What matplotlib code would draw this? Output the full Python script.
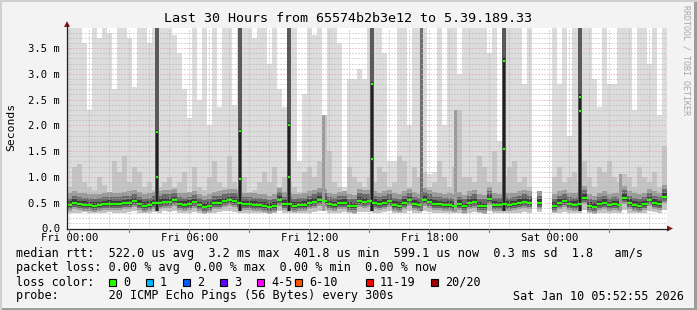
#!/usr/bin/env python3
# Smokeping style latency graph (last 30 hours)

import numpy as np
import matplotlib
matplotlib.use('Agg')
import matplotlib.pyplot as plt
from matplotlib.patches import Rectangle, Polygon
from matplotlib.lines import Line2D

W, H = 697, 310
FONT = 'DejaVu Sans Mono'

# one value per 15 minute bin, in milliseconds (nan = no data)
nan = float('nan')
median_ms = [
    0.46, 0.50, 0.47, 0.46, 0.45, 0.44, 0.45, 0.47, 0.48, 0.47, 0.47, 0.49, 0.50, 0.53, 0.48, 0.44, 0.46, 0.49, 0.50, 0.52,
    0.52, 0.55, 0.47, 0.46, 0.48, 0.51, 0.45, 0.42, 0.44, 0.49, 0.50, 0.53, 0.55, 0.54, 0.50, 0.47, 0.47, 0.46, 0.45, 0.44,
    0.42, 0.44, 0.56, 0.48, 0.47, 0.44, 0.45, 0.46, 0.50, 0.52, 0.56, 0.54, 0.47, 0.45, 0.49, 0.50, 0.44, 0.43, 0.54, 0.52,
    0.53, 0.50, 0.47, 0.50, 0.53, 0.46, 0.44, 0.50, 0.55, 0.48, 0.45, 0.56, 0.52, 0.48, 0.47, 0.45, 0.46, 0.44, 0.48, 0.43,
    0.50, 0.52, 0.44, 0.43, 0.58, 0.46, 0.45, 0.47, 0.46, 0.47, 0.50, 0.52, 0.50, nan, 0.50, nan, nan, 0.44, 0.50, 0.53,
    0.47, 0.46, 0.48, 0.60, 0.44, 0.42, 0.47, 0.50, 0.45, 0.47, 0.46, 0.60, 0.50, 0.46, 0.44, 0.47, 0.55, 0.50, 0.47, 0.62,
]
smoke_max = [
    3.9, 3.9, 3.9, 3.6, 2.3, 3.9, 3.7, 3.9, 3.8, 2.7, 3.9, 3.9, 3.7, 2.75, 3.9, 3.9, 3.6, 3.9, 3.9, 3.9,
    3.9, 3.75, 3.4, 2.7, 2.15, 3.9, 2.5, 3.9, 2.0, 3.9, 2.35, 3.9, 3.9, 2.4, 3.9, 3.9, 3.9, 3.7, 3.9, 3.9,
    3.2, 3.9, 2.7, 2.35, 3.9, 3.9, 1.3, 2.6, 3.9, 3.75, 3.9, 2.2, 3.9, 3.9, 3.6, 0.8, 2.9, 2.9, 3.1, 2.9,
    3.9, 3.9, 3.9, 3.4, 1.3, 1.3, 3.9, 3.9, 2.0, 3.9, 3.9, 3.9, 1.05, 1.1, 3.9, 2.0, 3.9, 3.9, 3.0, 3.9,
    3.9, 3.9, 3.9, 3.9, 3.4, 3.9, 1.7, 3.9, 3.9, 3.9, 3.9, 2.8, 3.9, nan, 0.7, nan, nan, 3.9, 2.8, 3.9,
    1.8, 3.9, 3.9, 3.9, 3.9, 2.9, 2.35, 3.9, 2.8, 2.8, 3.9, 3.9, 3.9, 2.3, 3.9, 3.9, 3.2, 3.9, 2.2, 3.9,
]
smoke_mid = [
    0.8, 1.2, 1.25, 0.9, 0.8, 0.75, 1.0, 0.85, 0.7, 1.3, 1.1, 1.4, 0.9, 1.2, 1.1, 0.8, 0.9, 0.75, 0.8, 0.9,
    1.0, 0.8, 0.9, 1.1, 0.7, 1.2, 0.8, 0.75, 1.0, 1.3, 0.9, 0.8, 1.4, 0.9, 0.8, 1.0, 0.7, 0.75, 0.9, 1.1,
    0.9, 1.2, 0.8, 1.0, 0.9, 0.8, 0.7, 1.1, 1.2, 1.0, 1.3, 2.2, 1.5, 0.9, 0.8, 0.7, 1.2, 1.0, 0.9, 0.8,
    1.0, 0.9, 1.2, 1.1, 0.8, 0.9, 1.4, 1.3, 0.8, 1.2, 1.0, 1.1, 0.8, 0.9, 1.3, 1.0, 0.8, 1.2, 2.3, 1.0,
    1.0, 0.9, 1.4, 1.2, 0.9, 1.5, 0.9, 1.0, 1.2, 1.3, 0.9, 1.0, 0.8, nan, 0.6, nan, nan, 1.0, 1.2, 0.9,
    1.0, 1.1, 0.9, 1.3, 1.0, 0.8, 1.2, 1.1, 1.3, 1.0, 0.9, 1.05, 1.0, 0.8, 1.2, 1.0, 0.9, 1.1, 0.8, 1.6,
]
smoke_min = [
    0.31, 0.30, 0.31, 0.32, 0.31, 0.30, 0.31, 0.31, 0.32, 0.31, 0.30, 0.31, 0.32, 0.33, 0.31, 0.30, 0.31, 0.32, 0.31, 0.33,
    0.32, 0.33, 0.31, 0.30, 0.31, 0.32, 0.30, 0.29, 0.30, 0.31, 0.32, 0.33, 0.33, 0.32, 0.31, 0.31, 0.30, 0.30, 0.31, 0.30,
    0.29, 0.30, 0.33, 0.31, 0.31, 0.30, 0.30, 0.31, 0.31, 0.32, 0.33, 0.33, 0.31, 0.30, 0.31, 0.32, 0.30, 0.29, 0.32, 0.32,
    0.32, 0.31, 0.31, 0.32, 0.33, 0.30, 0.30, 0.31, 0.33, 0.31, 0.30, 0.33, 0.32, 0.31, 0.31, 0.30, 0.30, 0.30, 0.31, 0.29,
    0.31, 0.32, 0.30, 0.29, 0.34, 0.31, 0.30, 0.31, 0.30, 0.31, 0.31, 0.32, 0.31, nan, 0.32, nan, nan, 0.30, 0.31, 0.32,
    0.31, 0.30, 0.31, 0.35, 0.30, 0.29, 0.31, 0.31, 0.30, 0.31, 0.30, 0.35, 0.31, 0.30, 0.30, 0.31, 0.33, 0.32, 0.31, 0.36,
]

# short bursts where the median itself went up (hours since graph start)
spike_hours = [4.5, 8.65, 11.1, 15.25, 21.85, 25.65]
spike_med_hi = [1.87, 1.89, 2.00, 2.80, 3.25, 2.55]
spike_med_lo = [0.99, 0.97, 1.00, 1.35, 1.55, 2.27]

# darker smoke columns without a median jump
gray_col_hours = [12.8, 17.7, 19.4, 27.65]
gray_col_top = [2.2, 3.9, 2.3, 1.05]

x_tick_hours = [0.118, 6.118, 12.118, 18.118, 24.118]
x_tick_labels = ['Fri 00:00', 'Fri 06:00', 'Fri 12:00', 'Fri 18:00', 'Sat 00:00']
y_ticks = [0.0, 0.5, 1.0, 1.5, 2.0, 2.5, 3.0, 3.5]
y_tick_labels = ['0.0', '0.5 m', '1.0 m', '1.5 m', '2.0 m', '2.5 m', '3.0 m', '3.5 m']

loss_labels = ['0', '1', '2', '3', '4-5', '6-10', '11-19', '20/20']
loss_colors = ['#26ff00', '#00b8ff', '#0059ff', '#5e00ff', '#ff00ff', '#ff5500', '#ff0000', '#a10000']

legend_lines = [
    'median rtt:  522.0 us avg  3.2 ms max  401.8 us min  599.1 us now  0.3 ms sd  1.8   am/s',
    'packet loss: 0.00 % avg  0.00 % max  0.00 % min  0.00 % now',
    'loss color:',
    'probe:       20 ICMP Echo Pings (56 Bytes) every 300s',
]
stamp = 'Sat Jan 10 05:52:55 2026'

BIN_H = 0.25
YMAX = 3.89
GREEN = '#26ff00'


def fx(x):
    return x / W


def fy(y):
    return 1 - y / H


fig = plt.figure(figsize=(W / 100, H / 100), dpi=100, facecolor='#f3f3f3')
ax = fig.add_axes([fx(67), fy(228.5), 600 / W, 200.5 / H])
ax.set_facecolor('white')
ax.set_xlim(0, 30)
ax.set_ylim(0, YMAX)
for s in ax.spines.values():
    s.set_visible(False)

med = np.array(median_ms, float)
hi = np.minimum(np.array(smoke_max, float), YMAX)
mid = np.array(smoke_mid, float)
lo = np.array(smoke_min, float)
t = np.arange(len(med)) * BIN_H
ok = ~np.isnan(med)

# smoke, lightest outside, darkest around the median
ax.bar(t[ok], (hi - lo)[ok], bottom=lo[ok], width=BIN_H, align='edge',
       color='#dcdcdc', lw=0, antialiased=False, zorder=1)
ax.bar(t[ok], (mid - lo)[ok], bottom=lo[ok], width=BIN_H, align='edge',
       color='#c4c4c4', lw=0, antialiased=False, zorder=2)
for below, above, col in [(0.12, 0.22, '#9a9a9a'), (0.08, 0.14, '#6a6a6a'), (0.04, 0.07, '#3c3c3c')]:
    ax.bar(t[ok], below + above, bottom=med[ok] - below, width=BIN_H, align='edge',
           color=col, lw=0, antialiased=False, zorder=3)

for h, top in zip(gray_col_hours, gray_col_top):
    c = '#6e6e6e' if top >= YMAX else '#9a9a9a'
    ax.bar(h, min(top, YMAX) - 0.33, bottom=0.33, width=0.15, color=c, lw=0, zorder=4)

# grid, drawn over the smoke
dots = (0, (1, 2))
for k in range(30):
    hh = x_tick_hours[0] + k
    col = '#e89a9a' if k % 3 == 0 else '#b4b4b4'
    ax.axvline(hh, color=col, lw=0.72, ls=dots, zorder=4.5)
for k in range(1, 39):
    col = '#e89a9a' if k % 5 == 0 else '#b4b4b4'
    ax.axhline(k * 0.1, color=col, lw=0.72, ls=dots, zorder=4.5)

for h, a, b in zip(spike_hours, spike_med_hi, spike_med_lo):
    ax.bar(h, YMAX - 0.33, bottom=0.33, width=0.2, color='#5a5a5a', lw=0, zorder=5)
    ax.bar(h, max(a, b) + 0.05 - 0.33, bottom=0.33, width=0.14, color='#202020', lw=0, zorder=5)
    ax.hlines([a, b], h - 0.06, h + 0.06, colors=GREEN, lw=1.6, zorder=8)

# median
ax.hlines(med[ok], t[ok], t[ok] + BIN_H, colors=GREEN, lw=1.6, zorder=8)

ax.set_xticks(x_tick_hours)
ax.set_xticklabels(x_tick_labels, fontfamily=FONT, fontsize=7.6)
ax.set_yticks(y_ticks)
ax.set_yticklabels(y_tick_labels, fontfamily=FONT, fontsize=7.6)
ax.tick_params(axis='x', length=0, pad=3)
ax.tick_params(axis='y', length=0, pad=5)

# axes with arrows
fig.add_artist(Line2D([fx(67), fx(668)], [fy(228.5), fy(228.5)], color='#202020', lw=0.9))
fig.add_artist(Line2D([fx(67), fx(67)], [fy(228.5), fy(24)], color='#202020', lw=0.9))
fig.add_artist(Polygon([[fx(667), fy(225.5)], [fx(673), fy(228.5)], [fx(667), fy(231.5)]],
                       closed=True, color='#8b1a1a', lw=0))
fig.add_artist(Polygon([[fx(64), fy(27)], [fx(67), fy(21)], [fx(70), fy(27)]],
                       closed=True, color='#8b1a1a', lw=0))
for k in range(0, 30, 3):
    xp = 67 + (x_tick_hours[0] + k) * 20
    fig.add_artist(Line2D([fx(xp), fx(xp)], [fy(229), fy(232)], color='#e05050', lw=0.8))

# frame
fig.add_artist(Rectangle((0, 0), 1, 2 / H, transform=fig.transFigure, color='#9c9c9c', lw=0))
fig.add_artist(Rectangle((1 - 3 / W, 0), 3 / W, 1, transform=fig.transFigure, color='#9c9c9c', lw=0))
fig.add_artist(Rectangle((0, 1 - 2 / H), 1, 2 / H, transform=fig.transFigure, color='#d0d0d0', lw=0))
fig.add_artist(Rectangle((0, 0), 2 / W, 1, transform=fig.transFigure, color='#d0d0d0', lw=0))

fig.text(fx(348), fy(19), 'Last 30 Hours from 65574b2b3e12 to 5.39.189.33',
         ha='center', va='center', fontfamily=FONT, fontsize=9.6)
fig.text(fx(11), fy(127), 'Seconds', rotation=90, ha='center', va='center',
         fontfamily=FONT, fontsize=8.2)
fig.text(fx(686), fy(60), 'RRDTOOL / TOBI OETIKER', rotation=-90, ha='center', va='center',
         fontfamily=FONT, fontsize=6, color='#a8a8a8')

for yy, txt in zip([254, 268, 282, 296], legend_lines):
    fig.text(fx(16), fy(yy), txt, ha='left', va='center', fontfamily=FONT, fontsize=8.5)
fig.text(fx(513), fy(296), stamp, ha='left', va='center', fontfamily=FONT, fontsize=8.5)

box_x = [109, 146, 183, 220, 257, 295, 366, 431]
for bx, lab, col in zip(box_x, loss_labels, loss_colors):
    fig.add_artist(Rectangle((fx(bx), fy(286)), 7 / W, 7 / H, transform=fig.transFigure,
                             facecolor=col, edgecolor='black', lw=0.8))
    fig.text(fx(bx + 14), fy(282), lab, ha='left', va='center', fontfamily=FONT, fontsize=8.5)

fig.savefig('out.png', dpi=100, facecolor=fig.get_facecolor())
